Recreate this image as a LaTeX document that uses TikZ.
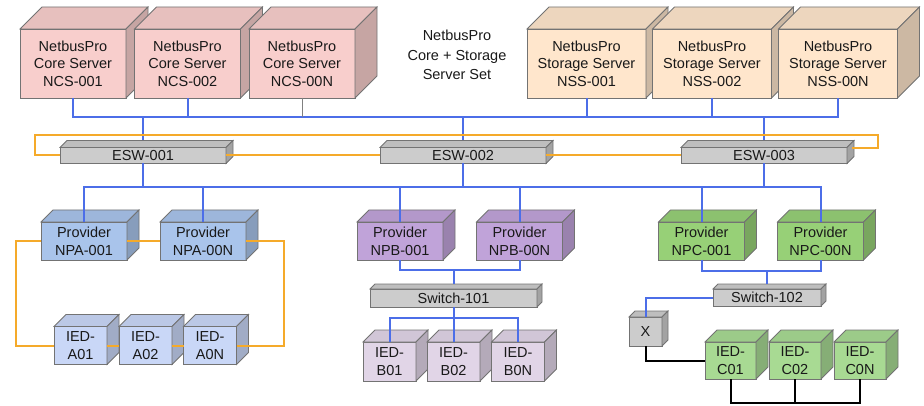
\documentclass[tikz,border=0pt]{standalone}
\usepackage{fontspec}
\setmainfont{Liberation Sans}
\definecolor{corefill}{HTML}{F8CECC}
\definecolor{storefill}{HTML}{FFE6CC}
\definecolor{swfill}{HTML}{CCCCCC}
\definecolor{provA}{HTML}{A9C4EB}
\definecolor{provB}{HTML}{C0A3D9}
\definecolor{provC}{HTML}{97D077}
\definecolor{iedAfill}{HTML}{C9D7F7}
\definecolor{iedBfill}{HTML}{E1D5E7}
\definecolor{iedCfill}{HTML}{A8DA93}
\definecolor{lanblue}{HTML}{4C6EE8}
\definecolor{ringorange}{HTML}{F5AA2A}
\tikzstyle{face} = [draw=black!55, line width=0.8pt]
\tikzstyle{box} = [rectangle, draw=black!55, line width=0.8pt, inner sep=0pt, outer sep=0pt, align=center, text=black!90, font=\fontsize{14.5}{17.5}\selectfont]
\tikzstyle{server} = [box, minimum height=69pt]
\tikzstyle{provider} = [box, minimum width=86pt, minimum height=38pt, font=\fontsize{14.5}{18}\selectfont]
\tikzstyle{ied} = [box, minimum width=53pt, minimum height=38pt]
\tikzstyle{switch} = [box, fill=swfill, minimum height=16pt]
\tikzstyle{lan} = [draw=lanblue, line width=2pt]
\tikzstyle{ring} = [draw=ringorange, line width=2pt]
\tikzstyle{wire} = [draw=black, line width=2pt]
% top and right faces of a box node: name, depth, colour
\newcommand{\cubefaces}[3]{%
  \filldraw[face, fill=#3!93!black] (#1.north west) -- ++(#2,-#2) -- ([shift={(#2,-#2)}]#1.north east) -- (#1.north east) -- cycle;
  \filldraw[face, fill=#3!80!black] (#1.north east) -- ++(#2,-#2) -- ([shift={(#2,-#2)}]#1.south east) -- (#1.south east) -- cycle;}

\begin{document}
\begin{tikzpicture}[x=1pt, y=-1pt]
    \useasboundingbox (0,0) rectangle (924,406);

    % servers
    \node (ncs1) [server, fill=corefill, minimum width=106pt] at (73,63.5) {NetbusPro\\Core Server\\NCS-001};
    \cubefaces{ncs1}{22}{corefill}
    \node (ncs2) [server, fill=corefill, minimum width=106pt] at (187.5,63.5) {NetbusPro\\Core Server\\NCS-002};
    \cubefaces{ncs2}{22}{corefill}
    \node (ncs3) [server, fill=corefill, minimum width=106pt] at (302,63.5) {NetbusPro\\Core Server\\NCS-00N};
    \cubefaces{ncs3}{22}{corefill}
    \node (nss1) [server, fill=storefill, minimum width=119pt] at (586.5,63.5) {NetbusPro\\Storage Server\\NSS-001};
    \cubefaces{nss1}{22}{storefill}
    \node (nss2) [server, fill=storefill, minimum width=119pt] at (712,63.5) {NetbusPro\\Storage Server\\NSS-002};
    \cubefaces{nss2}{22}{storefill}
    \node (nss3) [server, fill=storefill, minimum width=119pt] at (838,63.5) {NetbusPro\\Storage Server\\NSS-00N};
    \cubefaces{nss3}{22}{storefill}
    \node (title) [align=center, text=black!90, font=\fontsize{14.5}{19.5}\selectfont] at (457,55) {NetbusPro\\Core + Storage\\Server Set};

    % core switches
    \node (esw1) [switch, minimum width=166pt] at (143,155.5) {ESW-001};
    \node (esw2) [switch, minimum width=166pt] at (463,155.5) {ESW-002};
    \node (esw3) [switch, minimum width=166pt] at (764,155.5) {ESW-003};
    \foreach \n in {esw1,esw2,esw3} {\cubefaces{\n}{7}{swfill}}

    \draw [lan] (ncs1.south) -- ++(0,19.5) -| (nss3.south);
    \draw [lan] (ncs2.south) -- ++(0,19.5);
    \draw [draw=black!50, line width=1pt] (ncs3.south) -- ++(0,19.5);
    \draw [lan] (nss1.south) -- ++(0,19.5);
    \draw [lan] (nss2.south) -- ++(0,19.5);
    \draw [lan] ([yshift=7pt]esw1.north) -- ++(0,-23);
    \draw [lan] ([yshift=7pt]esw2.north) -- ++(0,-23);
    \draw [lan] ([yshift=7pt]esw3.north) -- ++(0,-23);

    \coordinate (ringL) at (35,135);
    \coordinate (ringR) at (878,135);
    \draw [ring] (esw1.west) -| (ringL) -- (ringR) |- ([shift={(5,-7)}]esw3.east);
    \draw [ring] (esw1.east) -- (esw2.west);
    \draw [ring] (esw2.east) -- (esw3.west);

    % providers
    \node (npa1) [provider, fill=provA] at (84,241) {Provider\\NPA-001};
    \node (npa2) [provider, fill=provA] at (203,241) {Provider\\NPA-00N};
    \node (npb1) [provider, fill=provB] at (400,241) {Provider\\NPB-001};
    \node (npb2) [provider, fill=provB] at (519.5,241) {Provider\\NPB-00N};
    \node (npc1) [provider, fill=provC] at (701.5,241) {Provider\\NPC-001};
    \node (npc2) [provider, fill=provC] at (820.5,241) {Provider\\NPC-00N};
    \foreach \n in {npa1,npa2} {\cubefaces{\n}{12}{provA}}
    \foreach \n in {npb1,npb2} {\cubefaces{\n}{12}{provB}}
    \foreach \n in {npc1,npc2} {\cubefaces{\n}{12}{provC}}

    \draw [lan] (npa1.north) -- ++(0,-35) -| (npc2.north);
    \foreach \n in {npa2,npb1,npb2,npc1} {\draw [lan] (\n.north) -- ++(0,-35);}
    \foreach \n in {esw1,esw2,esw3} {\draw [lan] (\n.south) -- ++(0,24);}

    % group A
    \node (iedA1) [ied, fill=iedAfill] at (80.5,345.5) {IED-\\A01};
    \cubefaces{iedA1}{12}{iedAfill}
    \node (iedA2) [ied, fill=iedAfill] at (145.5,345.5) {IED-\\A02};
    \cubefaces{iedA2}{12}{iedAfill}
    \node (iedA3) [ied, fill=iedAfill] at (210,345.5) {IED-\\A0N};
    \cubefaces{iedA3}{12}{iedAfill}
    \draw [ring] (npa1.east) -- (npa2.west);
    \draw [ring] (npa1.west) -- ++(-25,0) |- (iedA1.west);
    \draw [ring] (npa2.east) -- ++(38,0) |- (iedA3.east);
    \draw [ring] (iedA1.east) -- (iedA2.west);
    \draw [ring] (iedA2.east) -- (iedA3.west);

    % group B
    \node (sw101) [switch, minimum width=167pt, minimum height=18pt] at (453.5,298) {Switch-101};
    \cubefaces{sw101}{5}{swfill}
    \node (iedB1) [ied, fill=iedBfill, minimum height=39pt] at (389.5,361.5) {IED-\\B01};
    \cubefaces{iedB1}{12}{iedBfill}
    \node (iedB2) [ied, fill=iedBfill, minimum height=39pt] at (453.5,361.5) {IED-\\B02};
    \cubefaces{iedB2}{12}{iedBfill}
    \node (iedB3) [ied, fill=iedBfill, minimum height=39pt] at (518,361.5) {IED-\\B0N};
    \cubefaces{iedB3}{12}{iedBfill}
    \draw [lan] (npb1.south) -- ++(0,10) -| (npb2.south);
    \draw [lan] ([yshift=5pt]sw101.north) -- ++(0,-13);
    \draw [lan] (iedB1.north) -- ++(0,-24) -| (iedB3.north);
    \draw [lan] (sw101.south) -- (iedB2.north);

    % group C
    \node (sw102) [switch, minimum width=108pt, minimum height=17pt] at (767,297.5) {Switch-102};
    \cubefaces{sw102}{5}{swfill}
    \node (xbox) [box, fill=swfill, minimum width=33pt, minimum height=29pt] at (645.5,331.5) {X};
    \cubefaces{xbox}{6}{swfill}
    \node (iedC1) [ied, fill=iedCfill, minimum width=51pt, minimum height=37pt] at (730.5,360.5) {IED-\\C01};
    \cubefaces{iedC1}{12}{iedCfill}
    \node (iedC2) [ied, fill=iedCfill, minimum width=52pt, minimum height=37pt] at (795,360.5) {IED-\\C02};
    \cubefaces{iedC2}{12}{iedCfill}
    \node (iedC3) [ied, fill=iedCfill, minimum width=52pt, minimum height=37pt] at (860,360.5) {IED-\\C0N};
    \cubefaces{iedC3}{12}{iedCfill}
    \draw [lan] (npc1.south) -- ++(0,11) -| (npc2.south);
    \draw [lan] ([yshift=5pt]sw102.north) -- ++(0,-13);
    \draw [lan] (sw102.west) -| (xbox.north);
    \draw [wire] (xbox.south) |- (iedC1.west);
    \draw [wire] (iedC1.south) -- ++(0,24) -| (iedC3.south);
    \draw [wire] (iedC2.south) -- ++(0,24);
\end{tikzpicture}
\end{document}
